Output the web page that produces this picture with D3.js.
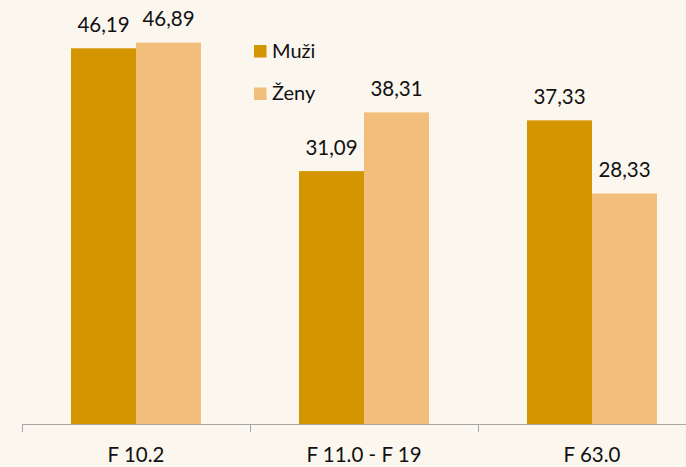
<!DOCTYPE html>
<html>
<head>
<meta charset="utf-8">
<script src="https://cdn.jsdelivr.net/npm/d3@7"></script>
<style>
  html, body { margin: 0; padding: 0; background: #FBF7EF; }
  svg { display: block; }
  text { font-family: Lato, "Open Sans", sans-serif; fill: #111; }
</style>
</head>
<body>
<svg id="chart" width="686" height="467"></svg>
<script>
const categories = ["F 10.2", "F 11.0 - F 19", "F 63.0"];
const seriesNames = ["Muži", "Ženy"];
const muzi = [46.19, 31.09, 37.33];
const zeny = [46.89, 38.31, 28.33];
const seriesValues = [muzi, zeny];
const colors = ["#D39600", "#F2BE7B"];

const W = 686, H = 467;
const svg = d3.select("#chart");
svg.append("rect").attr("width", W).attr("height", H).attr("fill", "#FBF7EF");

const baseY = 424;
const x0 = d3.scaleBand().domain(categories).range([22, 706]).paddingInner(0.43).paddingOuter(0.215);
const x1 = d3.scaleBand().domain(seriesNames).range([0, x0.bandwidth()]);
const y = d3.scaleLinear().domain([0, 50]).range([baseY, 17.3]);
const fmt = v => d3.format(".2f")(v).replace(".", ",");

const groups = svg.selectAll("g.grp").data(categories).join("g")
  .attr("class", "grp")
  .attr("transform", d => `translate(${x0(d)},0)`);

groups.each(function(cat, ci) {
  const g = d3.select(this);
  seriesNames.forEach((s, si) => {
    const v = seriesValues[si][ci];
    g.append("rect")
      .attr("x", x1(s))
      .attr("y", y(v))
      .attr("width", x1.bandwidth())
      .attr("height", baseY - y(v))
      .attr("fill", colors[si]);
    g.append("text")
      .attr("x", x1(s) + x1.bandwidth() / 2)
      .attr("y", y(v) - 16.5)
      .attr("text-anchor", "middle")
      .attr("font-size", 20.5)
      .text(fmt(v));
  });
});

// axis
const step = x0.step();
svg.append("line").attr("x1", 22).attr("x2", W).attr("y1", baseY + 0.5).attr("y2", baseY + 0.5)
  .attr("stroke", "#A6A6A6").attr("stroke-width", 1);
d3.range(categories.length + 1).forEach(i => {
  const xx = Math.round(22 + i * step) + 0.5;
  svg.append("line").attr("x1", xx).attr("x2", xx).attr("y1", baseY).attr("y2", baseY + 8)
    .attr("stroke", "#A6A6A6").attr("stroke-width", 1);
});
categories.forEach(c => {
  svg.append("text")
    .attr("x", x0(c) + x0.bandwidth() / 2)
    .attr("y", 461.5)
    .attr("text-anchor", "middle")
    .attr("font-size", 20.5)
    .text(c);
});

// legend
seriesNames.forEach((s, i) => {
  const ly = 45 + i * 42.5;
  svg.append("rect").attr("x", 254).attr("y", ly).attr("width", 12.5).attr("height", 12.5).attr("fill", colors[i]);
  svg.append("text").attr("x", 272).attr("y", ly + 12.8).attr("font-size", 20).text(s);
});
</script>
</body>
</html>
